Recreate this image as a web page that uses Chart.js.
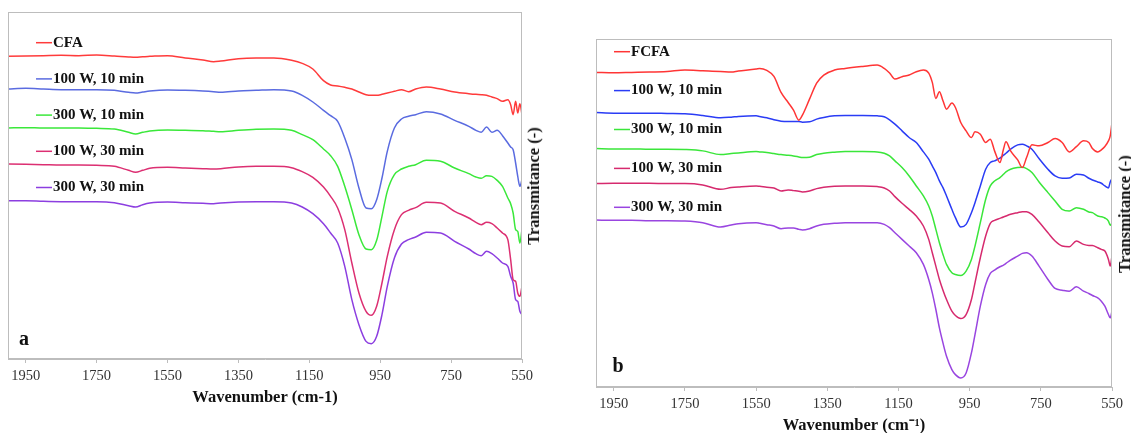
<!DOCTYPE html>
<html lang="en">
  <head>
    <meta charset="UTF-8" />
    <title>FTIR spectra - CFA / FCFA</title>
    <script src="https://cdn.jsdelivr.net/npm/chart.js"></script>
    <style>
      body {
        margin: 0;
        width: 1131px;
        height: 433px;
        overflow: hidden;
        position: relative;
        background: #fff;
        font-family: "Liberation Serif", serif;
      }
      canvas {
        position: absolute;
        top: 0;
      }
      .ylab {
        position: absolute;
        font-weight: bold;
        font-size: 16.5px;
        white-space: nowrap;
        transform: translate(-50%, -50%) rotate(-90deg);
        color: #111;
      }
      .panel {
        position: absolute;
        font-weight: bold;
        font-size: 20px;
        transform: translate(-50%, -50%);
        color: #111;
      }
    </style>
  </head>
  <body>
    <canvas id="chartA" width="560" height="433" style="left: 0"></canvas>
    <canvas id="chartB" width="561" height="460" style="left: 570px"></canvas>
    <div class="ylab" style="left: 534px; top: 186px">Transmitance (-)</div>
    <div class="ylab" style="left: 1125px; top: 214px">Transmitance (-)</div>
    <div class="panel" style="left: 24px; top: 338px">a</div>
    <div class="panel" style="left: 618px; top: 365px">b</div>

    <script>
      // x ticks (cm-1)
      const tickValues = [1950, 1750, 1550, 1350, 1150, 950, 750, 550];

      // panel a: raw CFA and MW treated samples
      const labelsA = ["CFA", "100 W, 10 min", "300 W, 10 min", "100 W, 30 min", "300 W, 30 min"];
      const wnA = [2000, 1950, 1900, 1850, 1800, 1750, 1700, 1660, 1640, 1620, 1600,
        1550, 1500, 1450, 1420, 1400, 1350, 1300, 1250, 1200,
        1170, 1140, 1110, 1090, 1070, 1050, 1030, 1010,
        990, 975, 960, 945, 930, 910, 890, 870, 850,
        820, 780, 740, 700, 680, 665, 650, 635, 620, 605, 590,
        582, 575, 568, 562, 556, 550];
      const cfa = [90.8, 90.9, 91.0, 91.1, 91.0, 91.2, 90.9, 90.6, 90.5, 90.7, 90.8,
        91.0, 90.3, 89.7, 89.2, 89.4, 90.1, 90.3, 90.3, 89.6,
        88.7, 87.0, 83.5, 82.2, 81.9, 81.5, 81.0, 80.1,
        79.3, 79.1, 79.1, 79.4, 79.8, 80.3, 80.8, 80.2, 81.0,
        81.6, 81.0, 80.1, 79.6, 79.4, 79.3, 79.1, 78.6, 78.1, 77.3, 77.8,
        76.3, 73.3, 77.3, 73.8, 76.6, 73.3];
      const a100w10 = [81.0, 81.2, 81.0, 80.8, 80.8, 80.8, 80.6, 80.0, 79.8, 80.1, 80.4,
        80.7, 80.6, 80.4, 80.2, 80.0, 80.4, 80.6, 80.8, 80.4,
        79.1, 77.1, 74.6, 73.0, 71.3, 66.3, 59.8, 51.3,
        45.3, 45.1, 47.8, 54.3, 62.3, 69.3, 72.0, 72.8, 73.3,
        74.2, 73.5, 71.6, 69.8, 68.6, 68.0, 69.6, 68.0, 68.6, 67.0, 64.8,
        63.6, 62.8, 58.8, 54.8, 51.8, 53.8];
      const a300w10 = [69.3, 69.4, 69.3, 69.3, 69.3, 69.2, 69.0, 68.0, 67.5, 68.0, 68.4,
        68.7, 68.6, 68.5, 68.3, 68.2, 68.6, 68.9, 69.0, 68.6,
        67.3, 65.8, 63.0, 61.0, 57.8, 51.8, 44.8, 37.3,
        33.0, 32.8, 35.6, 42.8, 50.3, 55.3, 57.0, 57.8, 58.3,
        59.6, 59.3, 57.3, 55.6, 54.6, 54.2, 55.0, 54.8, 53.6, 51.8, 48.3,
        46.6, 43.8, 38.8, 38.3, 34.8, 38.8];
      const a100w30 = [58.5, 58.4, 58.3, 58.2, 58.2, 58.1, 57.8, 56.6, 56.0, 56.6, 57.2,
        57.5, 57.3, 57.1, 57.0, 57.1, 57.6, 57.8, 57.8, 57.4,
        56.2, 54.5, 51.6, 48.8, 45.3, 38.8, 28.8, 19.8,
        14.3, 13.1, 15.8, 22.8, 30.8, 38.8, 43.3, 44.6, 45.4,
        47.0, 46.8, 44.3, 42.3, 41.0, 40.3, 41.0, 40.6, 39.3, 37.8, 35.8,
        29.8, 23.8, 23.3, 19.8, 18.8, 21.8];
      const a300w30 = [47.5, 47.5, 47.3, 47.2, 47.2, 47.2, 46.9, 46.0, 45.6, 46.3, 46.8,
        47.1, 46.9, 46.7, 46.6, 46.8, 47.1, 47.2, 47.2, 46.8,
        45.6, 43.6, 40.6, 37.8, 34.8, 27.8, 17.8, 10.3,
        5.3, 4.6, 6.8, 13.3, 21.8, 30.3, 34.5, 35.8, 36.6,
        38.0, 37.8, 35.3, 33.0, 31.6, 31.0, 32.3, 31.6, 30.3, 28.8, 27.8,
        24.8, 22.8, 17.8, 17.3, 14.3, 13.3];

      // panel b: FCFA and MW treated samples
      const labelsB = ["FCFA", "100 W, 10 min", "300 W, 10 min", "100 W, 30 min", "300 W, 30 min"];
      const wnB = [2000, 1950, 1900, 1850, 1800, 1750, 1700, 1650, 1620, 1600,
        1550, 1540, 1520, 1500, 1480, 1460, 1445, 1430, 1420, 1400,
        1380, 1360, 1330, 1300, 1250, 1210, 1190, 1175, 1160, 1140,
        1120, 1100, 1080, 1065, 1055, 1045, 1035, 1025, 1015, 1000,
        990, 975, 960, 945, 935, 920, 905, 892, 880, 865,
        855, 848, 835, 815, 802, 790, 775, 755, 730, 710,
        690, 670, 650, 630, 615, 605, 590, 580, 570, 560,
        555, 550];
      const fcfa = [94.2, 94.1, 94.2, 94.3, 94.5, 94.9, 94.7, 94.5, 94.3, 94.6,
        95.2, 95.4, 94.8, 93.0, 88.2, 85.2, 82.9, 79.9, 81.4, 86.2,
        91.0, 93.4, 94.9, 95.4, 96.0, 96.4, 95.4, 94.0, 92.2, 92.9,
        93.4, 94.4, 94.9, 94.0, 91.2, 86.4, 88.4, 85.7, 83.2, 85.0,
        83.7, 79.2, 76.7, 74.7, 76.4, 75.7, 73.2, 74.2, 70.7, 67.2,
        71.2, 73.4, 70.7, 68.0, 65.7, 68.7, 72.5, 72.2, 73.2, 74.4,
        73.2, 70.4, 72.0, 73.7, 73.2, 71.4, 70.4, 71.0, 72.0, 73.7,
        75.2, 79.2];
      const b100w10 = [82.2, 82.0, 82.0, 82.0, 81.9, 81.8, 81.3, 80.6, 80.8, 81.0,
        81.2, 81.0, 80.6, 80.0, 79.6, 79.5, 79.5, 79.5, 79.3, 79.4,
        80.2, 80.7, 81.2, 81.3, 81.3, 81.2, 80.9, 80.0, 78.7, 76.7,
        74.7, 73.2, 70.4, 68.2, 66.2, 64.2, 61.7, 59.7, 57.2, 53.2,
        50.7, 47.9, 48.7, 52.2, 55.2, 60.2, 65.2, 67.2, 67.7, 68.5,
        69.4, 70.0, 71.2, 72.5, 72.7, 72.2, 71.2, 68.4, 65.2, 63.2,
        62.5, 62.6, 63.7, 63.5, 62.5, 62.0, 61.4, 61.0, 60.2, 59.6,
        61.4, 62.4];
      const b300w10 = [71.4, 71.3, 71.3, 71.2, 71.2, 71.1, 70.7, 69.6, 69.9, 70.1,
        70.5, 70.4, 70.2, 69.9, 69.6, 69.4, 69.2, 68.9, 68.7, 68.8,
        69.6, 70.0, 70.3, 70.5, 70.5, 70.4, 70.0, 69.2, 67.7, 65.7,
        63.2, 60.2, 57.2, 54.2, 51.2, 47.2, 43.2, 39.7, 36.7, 34.2,
        33.7, 33.4, 34.7, 38.2, 42.2, 49.2, 56.2, 60.2, 61.7, 62.7,
        63.7, 64.4, 65.2, 65.7, 65.8, 65.4, 64.2, 61.4, 58.2, 55.7,
        53.2, 52.7, 53.7, 53.2, 52.4, 52.2, 51.2, 51.0, 50.6, 49.7,
        48.4, 49.2];
      const b100w30 = [60.9, 61.0, 61.0, 61.0, 60.9, 60.9, 60.5, 59.2, 59.7, 59.9,
        60.2, 60.1, 59.8, 59.6, 58.7, 59.0, 58.8, 58.6, 58.4, 58.7,
        59.4, 59.8, 60.1, 60.2, 60.2, 60.0, 59.6, 58.7, 57.0, 55.0,
        53.2, 51.2, 48.2, 44.2, 40.2, 36.2, 32.2, 29.0, 26.2, 22.7,
        21.4, 20.5, 21.7, 26.2, 31.2, 38.7, 45.2, 49.0, 49.9, 50.5,
        50.9, 51.2, 51.7, 52.2, 52.5, 52.5, 51.7, 49.4, 46.2, 43.7,
        42.2, 42.0, 43.7, 42.7, 42.4, 42.4, 41.7, 41.2, 40.7, 38.2,
        36.2, 39.2];
      const b300w30 = [50.0, 49.9, 49.9, 49.8, 49.8, 49.7, 49.2, 47.9, 48.5, 48.9,
        49.2, 49.0, 48.6, 48.2, 47.4, 47.6, 47.6, 47.2, 47.0, 47.4,
        48.2, 48.7, 49.0, 49.2, 49.2, 49.2, 48.7, 47.7, 46.2, 44.2,
        42.2, 40.2, 36.7, 32.2, 28.2, 23.2, 17.7, 13.2, 9.2, 5.2,
        3.7, 2.7, 4.2, 10.2, 15.7, 24.2, 30.7, 34.0, 35.0, 36.0,
        36.5, 37.0, 38.0, 39.2, 40.0, 40.2, 39.2, 36.2, 32.2, 29.5,
        29.0, 28.7, 30.0, 28.7, 28.0, 27.4, 26.7, 25.7, 24.2, 21.7,
        20.7, 22.7];

      const colorsA = ["#ff3b3b", "#5a6be0", "#3ae83a", "#dc2f72", "#8c3ee0"];
      const colorsB = ["#ff3535", "#2a3cf5", "#3ae63a", "#d62a6e", "#9945e0"];

      // frame around the plot area + legend sitting inside it
      const frameAndLegend = {
        id: "frameAndLegend",
        afterDatasetsDraw(chart, args, opts) {
          const { ctx, chartArea: a } = chart;
          ctx.save();
          ctx.strokeStyle = "#bdbdbd";
          ctx.lineWidth = 1;
          ctx.strokeRect(Math.round(a.left) + 0.5, Math.round(a.top) + 0.5,
            Math.round(a.width) - 1, Math.round(a.height) - 1);
          ctx.font = 'bold 15px "Liberation Serif"';
          ctx.textBaseline = "middle";
          chart.data.datasets.forEach((ds, i) => {
            const y = opts.y0 + i * opts.step;
            ctx.strokeStyle = ds.borderColor;
            ctx.lineWidth = 1.5;
            ctx.beginPath();
            ctx.moveTo(opts.x, y);
            ctx.lineTo(opts.x + 16, y);
            ctx.stroke();
            ctx.fillStyle = "#111";
            ctx.fillText(ds.label, opts.x + 17, y);
          });
          ctx.restore();
        },
      };

      function makeChart(id, wn, series, labels, colors, cfg) {
        const ctx = document.getElementById(id).getContext("2d");
        return new Chart(ctx, {
          type: "line",
          data: {
            datasets: series.map((vals, i) => ({
              label: labels[i],
              data: wn.map((x, j) => ({ x: x, y: vals[j] })),
              borderColor: colors[i],
              borderWidth: 1.5,
              pointRadius: 0,
              cubicInterpolationMode: "monotone",
              fill: false,
            })),
          },
          options: {
            responsive: false,
            animation: false,
            devicePixelRatio: 1,
            layout: { padding: cfg.padding },
            plugins: {
              legend: { display: false },
              tooltip: { enabled: false },
              frameAndLegend: cfg.legend,
            },
            scales: {
              x: {
                type: "linear",
                reverse: true,
                min: 550,
                max: 2000,
                afterBuildTicks: (axis) => {
                  axis.ticks = tickValues.map((v) => ({ value: v }));
                },
                afterFit: (axis) => {
                  axis.height = cfg.axisHeight;
                  axis.paddingLeft = 0;
                  axis.paddingRight = 0;
                },
                grid: {
                  drawOnChartArea: false,
                  drawTicks: true,
                  tickLength: 4,
                  color: "#bdbdbd",
                },
                border: { display: true, color: "#bdbdbd" },
                ticks: {
                  autoSkip: false,
                  maxRotation: 0,
                  padding: 4,
                  color: "#333",
                  font: { family: "Liberation Serif", size: 14.5 },
                  callback: (v) => String(v),
                },
                title: {
                  display: true,
                  text: cfg.xTitle,
                  color: "#111",
                  padding: { top: 0, bottom: cfg.titlePad },
                  font: { family: "Liberation Serif", size: 16.5, weight: "bold" },
                },
              },
              y: {
                display: false,
                min: 0,
                max: cfg.yMax,
              },
            },
          },
          plugins: [frameAndLegend],
        });
      }

      makeChart("chartA", wnA, [cfa, a100w10, a300w10, a100w30, a300w30], labelsA, colorsA, {
        padding: { left: 8, right: 38, top: 12, bottom: 0 },
        axisHeight: 74,
        titlePad: 25,
        xTitle: "Wavenumber (cm-1)",
        yMax: 104.1,
        legend: { x: 36, y0: 42.7, step: 36.2 },
      });

      makeChart("chartB", wnB, [fcfa, b100w10, b300w10, b100w30, b300w30], labelsB, colorsB, {
        padding: { left: 26, right: 19, top: 39, bottom: 0 },
        axisHeight: 73,
        titlePad: 24,
        xTitle: "Wavenumber (cm\u207B\u00B9)",
        yMax: 104.2,
        legend: { x: 44, y0: 51.7, step: 38.9 },
      });
    </script>
  </body>
</html>
